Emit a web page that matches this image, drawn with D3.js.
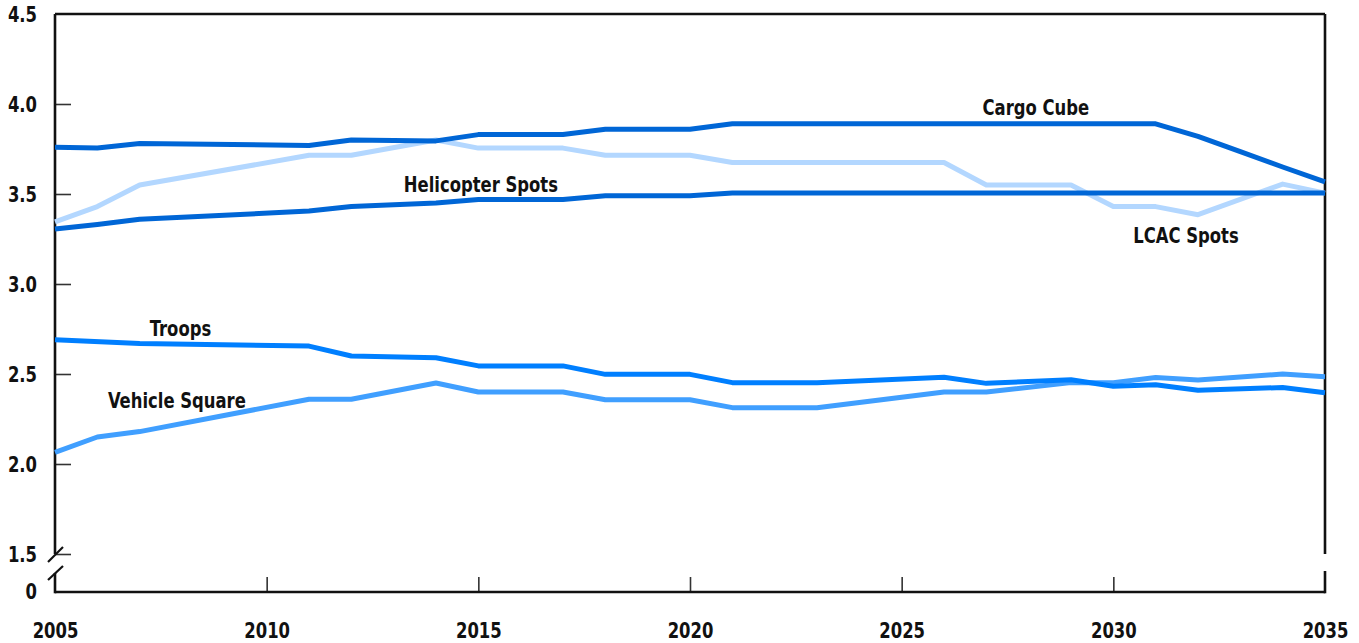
<!DOCTYPE html>
<html>
<head>
<meta charset="utf-8">
<script src="https://cdn.jsdelivr.net/npm/d3@7"></script>
<style>
  html, body { margin: 0; padding: 0; background: #fff; }
  svg { display: block; }
  text { font-family: "DejaVu Sans Condensed", "DejaVu Sans", sans-serif; font-stretch: condensed; fill: #111; }
</style>
</head>
<body>
<svg id="chart" width="1359" height="643"></svg>
<script>
// ---- Data ----
const xTickYears = [2005, 2010, 2015, 2020, 2025, 2030, 2035];
const yTickValues = [4.5, 4.0, 3.5, 3.0, 2.5, 2.0, 1.5];
const yTickLabels = ["4.5", "4.0", "3.5", "3.0", "2.5", "2.0", "1.5"];
const zeroLabel = "0";

const seriesNames = ["LCAC Spots", "Cargo Cube", "Helicopter Spots", "Vehicle Square", "Troops"];

const lcacYears   = [2005, 2006, 2007, 2011, 2012, 2014, 2015, 2017, 2018, 2020, 2021, 2026, 2027, 2029, 2030, 2031, 2032, 2034, 2035];
const lcacValues  = [3.345, 3.43, 3.55, 3.715, 3.715, 3.80, 3.755, 3.755, 3.715, 3.715, 3.675, 3.675, 3.55, 3.55, 3.43, 3.43, 3.385, 3.555, 3.505];

const cargoYears  = [2005, 2006, 2007, 2011, 2012, 2014, 2015, 2017, 2018, 2020, 2021, 2031, 2032, 2033, 2034, 2035];
const cargoValues = [3.76, 3.755, 3.78, 3.77, 3.80, 3.795, 3.83, 3.83, 3.86, 3.86, 3.89, 3.89, 3.82, 3.735, 3.65, 3.567];

const heliYears   = [2005, 2006, 2007, 2011, 2012, 2014, 2015, 2017, 2018, 2020, 2021, 2035];
const heliValues  = [3.305, 3.33, 3.36, 3.405, 3.43, 3.45, 3.47, 3.47, 3.49, 3.49, 3.505, 3.505];

const vehYears    = [2005, 2006, 2007, 2011, 2012, 2014, 2015, 2017, 2018, 2020, 2021, 2023, 2026, 2027, 2029, 2030, 2031, 2032, 2034, 2035];
const vehValues   = [2.065, 2.15, 2.18, 2.36, 2.36, 2.45, 2.40, 2.40, 2.357, 2.357, 2.313, 2.313, 2.40, 2.40, 2.452, 2.452, 2.48, 2.467, 2.50, 2.485];

const troopYears  = [2005, 2007, 2011, 2012, 2014, 2015, 2017, 2018, 2020, 2021, 2023, 2026, 2027, 2029, 2030, 2031, 2032, 2034, 2035];
const troopValues = [2.69, 2.67, 2.655, 2.60, 2.59, 2.545, 2.545, 2.498, 2.498, 2.452, 2.452, 2.482, 2.448, 2.468, 2.432, 2.44, 2.41, 2.425, 2.396];

// label anchors in data space (year, value)
const labelYears  = [2030.47, 2028.17, 2013.24, 2006.25, 2007.24];
const labelValues = [3.228, 3.939, 3.511, 2.311, 2.711];
const labelAnchors = ["start", "middle", "start", "start", "start"];

// ---- Layout / style ----
const colors = ["#b3d7ff", "#0066d6", "#0066d6", "#409fff", "#007fff"];
const plotLeft = 55, plotRight = 1325, plotTop = 14, brokenBottom = 554, plotBottom = 592;
const fontSize = "22px";
const squeeze = 0.83;

const svg = d3.select("#chart");
const x = d3.scaleLinear().domain([2005, 2035]).range([plotLeft, plotRight]);
const y = d3.scaleLinear().domain([1.5, 4.5]).range([brokenBottom, plotTop]);

function condense(sel) {
  sel.each(function () {
    const t = d3.select(this);
    const tx = +t.attr("x") || 0;
    t.attr("transform", `translate(${tx},0) scale(${squeeze},1) translate(${-tx},0)`);
  });
}

const seriesYears = [lcacYears, cargoYears, heliYears, vehYears, troopYears];
const seriesValues = [lcacValues, cargoValues, heliValues, vehValues, troopValues];
const series = seriesNames.map((name, i) => ({
  name, color: colors[i],
  points: seriesYears[i].map((yr, j) => ({ year: yr, value: seriesValues[i][j] }))
}));

// Y axis ticks (inward)
const yAxis = d3.axisLeft(y)
  .tickValues(yTickValues)
  .tickFormat((d, i) => yTickLabels[i])
  .tickSize(-16)
  .tickPadding(18);
const gy = svg.append("g").attr("transform", `translate(${plotLeft},0)`).call(yAxis);
gy.select(".domain").remove();
gy.selectAll(".tick line").attr("stroke", "#333").attr("stroke-width", 1.6);
gy.selectAll(".tick").filter(d => d === 4.5).select("line").remove();
gy.selectAll(".tick text").style("font-size", fontSize).style("font-weight", "bold").attr("fill", "#111").call(condense);

// zero label
svg.append("text").attr("x", plotLeft - 18).attr("y", plotBottom).attr("dy", "0.32em")
  .attr("text-anchor", "end").style("font-size", fontSize).style("font-weight", "bold").text(zeroLabel).call(condense);

// X axis ticks (inward, upward)
const xAxis = d3.axisBottom(x)
  .tickValues(xTickYears)
  .tickFormat(d3.format("d"))
  .tickSize(-15)
  .tickPadding(30);
const gx = svg.append("g").attr("transform", `translate(0,${plotBottom})`).call(xAxis);
gx.select(".domain").remove();
gx.selectAll(".tick line").attr("stroke", "#333").attr("stroke-width", 1.6);
gx.selectAll(".tick").filter(d => d === 2005 || d === 2035).select("line").remove();
gx.selectAll(".tick text").style("font-size", fontSize).style("font-weight", "bold").attr("fill", "#111").call(condense);

// Frame
const frame = svg.append("g").attr("stroke", "#111").attr("stroke-width", 2.6).attr("fill", "none");
frame.append("line").attr("x1", plotLeft).attr("x2", plotRight).attr("y1", plotTop).attr("y2", plotTop);
frame.append("line").attr("x1", plotLeft).attr("x2", plotLeft).attr("y1", plotTop).attr("y2", brokenBottom);
frame.append("line").attr("x1", plotLeft).attr("x2", plotLeft).attr("y1", 573).attr("y2", plotBottom + 1.3);
frame.append("line").attr("x1", plotRight).attr("x2", plotRight).attr("y1", plotTop).attr("y2", brokenBottom);
frame.append("line").attr("x1", plotRight).attr("x2", plotRight).attr("y1", 571).attr("y2", plotBottom + 1.3);
frame.append("line").attr("x1", plotLeft).attr("x2", plotRight).attr("y1", plotBottom).attr("y2", plotBottom);
// break slashes
frame.append("line").attr("x1", plotLeft - 7).attr("x2", plotLeft + 8).attr("y1", 562).attr("y2", 547).attr("stroke-width", 2.2);
frame.append("line").attr("x1", plotLeft - 7).attr("x2", plotLeft + 8).attr("y1", 580).attr("y2", 566).attr("stroke-width", 2.2);

// Lines
const line = d3.line().x(d => x(d.year)).y(d => y(d.value));
svg.append("g").selectAll("path").data(series).join("path")
  .attr("d", d => line(d.points))
  .attr("fill", "none")
  .attr("stroke", d => d.color)
  .attr("stroke-width", 5)
  .attr("stroke-linejoin", "round");

// Labels
svg.append("g").selectAll("text").data(seriesNames).join("text")
  .attr("x", (d, i) => x(labelYears[i]))
  .attr("y", (d, i) => y(labelValues[i]))
  .attr("text-anchor", (d, i) => labelAnchors[i])
  .style("font-size", fontSize)
  .style("font-weight", "bold")
  .text(d => d)
  .call(condense);
</script>
</body>
</html>
